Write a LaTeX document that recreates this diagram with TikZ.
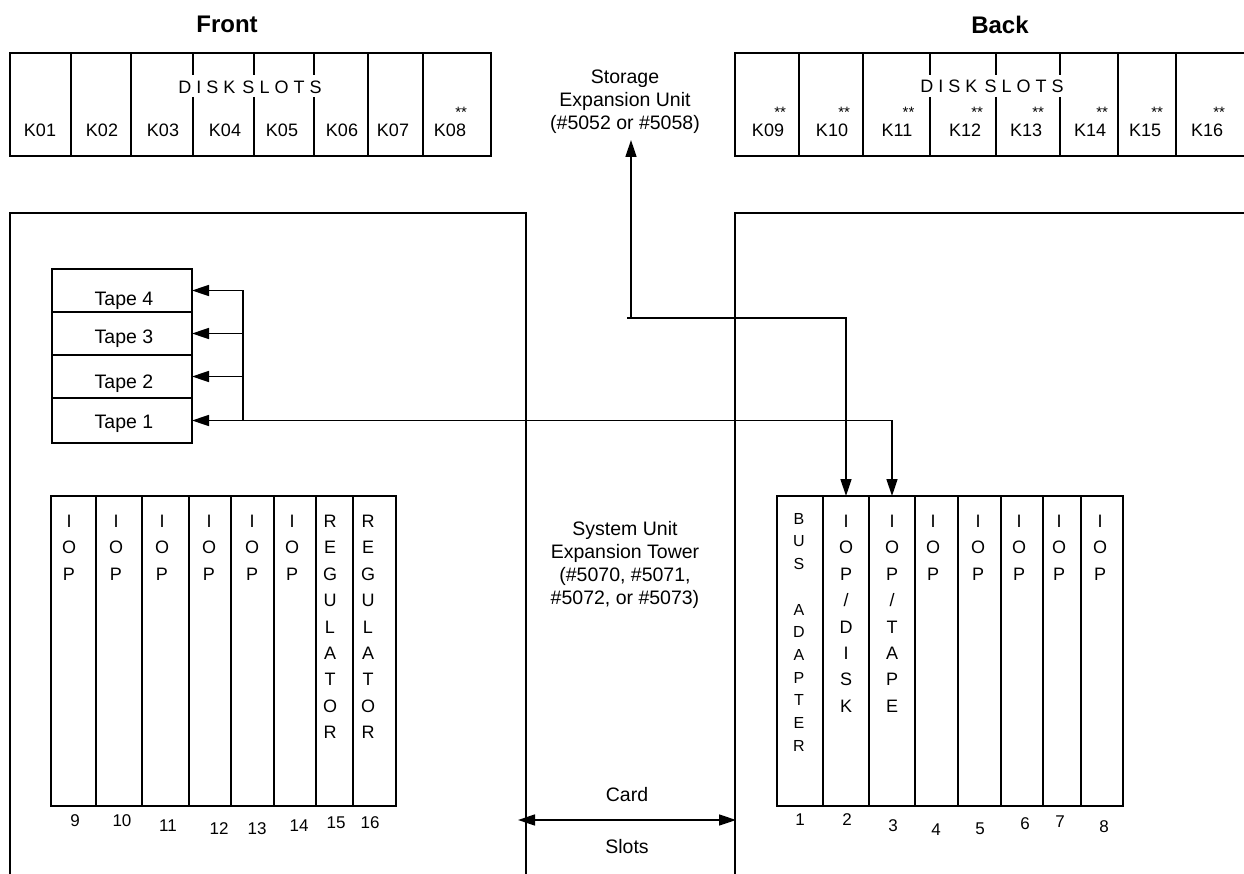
\documentclass[tikz,border=0pt]{standalone}
\usepackage{fontspec}
\setmainfont{Liberation Sans}
\usetikzlibrary{arrows.meta}
\begin{document}
\begin{tikzpicture}[x=1pt,y=-1pt,
  box/.style={draw, line width=2pt},
  div/.style={line width=1.6pt},
  conn/.style={line width=1.6pt},
  arr/.style={-{Triangle[length=17pt,width=11pt]}},
  darr/.style={{Triangle[length=17pt,width=11pt]}-{Triangle[length=17pt,width=11pt]}},
  title/.style={inner sep=0pt, font=\fontsize{24}{28}\selectfont\bfseries},
  lbl/.style={inner sep=0pt, font=\fontsize{18}{21}\selectfont},
  stars/.style={inner sep=0pt, font=\fontsize{15}{17}\selectfont},
  txt/.style={inner sep=0pt, font=\fontsize{19.5}{23}\selectfont, align=center},
  num/.style={inner sep=0pt, font=\fontsize{17}{20}\selectfont},
  tapebox/.style={draw, line width=1.8pt, minimum width=140pt, inner sep=0pt, outer sep=0pt, anchor=north west},
  card/.style={draw, line width=1.6pt, minimum height=310pt, inner sep=0pt, outer sep=0pt, anchor=north west},
  cl/.style={inner sep=0pt, font=\fontsize{18}{26.4}\selectfont, align=center, anchor=north},
  cls/.style={inner sep=0pt, font=\fontsize{16}{22.7}\selectfont, align=center, anchor=north}
]
\useasboundingbox (0,0) rectangle (1244,874);

% titles
\node[title, anchor=base] (front) at (227,33) {Front};
\node[title, anchor=base] (back) at (1000,34) {Back};

% front disk box
\draw[box] (10,53) rectangle (491,156);
\foreach \x in {71,131,368,423} \draw[div] (\x,53) -- (\x,156);
\foreach \x in {193,254,314} {\draw[div] (\x,53) -- (\x,75); \draw[div] (\x,97) -- (\x,156);}
\node[lbl, anchor=base] (fdisk) at (250,94) {D I S K\hspace{2pt} S L O T S};
\foreach \n/\x in {K01/40,K02/102,K03/163,K04/225,K05/282,K06/342,K07/393,K08/450}
  \node[lbl, anchor=base] (\n) at (\x,137) {\n};
\node[stars, anchor=base east] (sK08) at ([yshift=19pt,xshift=1pt]K08.base east) {**};

% back disk box
\draw[box] (735,53) rectangle (1256,156);
\foreach \x in {799,863,1118,1176} \draw[div] (\x,53) -- (\x,156);
\foreach \x in {930,996,1060} {\draw[div] (\x,53) -- (\x,75); \draw[div] (\x,97) -- (\x,156);}
\node[lbl, anchor=base] (bdisk) at (992,93) {D I S K\hspace{2pt} S L O T S};
\foreach \n/\x in {K09/768,K10/832,K11/897,K12/965,K13/1026,K14/1090,K15/1145,K16/1207}{
  \node[lbl, anchor=base] (\n) at (\x,137) {\n};
  \node[stars, anchor=base east] (s\n) at ([yshift=19pt,xshift=2pt]\n.base east) {**};
}

% storage expansion unit
\node[txt] (storage) at (625,102) {Storage\\Expansion Unit\\(\#5052 or \#5058)};
\coordinate (stip) at (631,140);
\coordinate (sbend) at (631,318);

% towers
\draw[box] (10,880) -- (10,213) -- (526,213) -- (526,880);
\draw[box] (1256,213) -- (735,213) -- (735,880);

% tapes
\node[tapebox, minimum height=43pt] (tape4) at (52,269) {};
\node[tapebox, minimum height=43pt] (tape3) at (52,312) {};
\node[tapebox, minimum height=43pt] (tape2) at (52,355) {};
\node[tapebox, minimum height=45pt] (tape1) at (52,398) {};
\node[txt, anchor=base] (lt4) at (124,306) {Tape 4};
\node[txt, anchor=base] (lt3) at (124,344) {Tape 3};
\node[txt, anchor=base] (lt2) at (124,388) {Tape 2};
\node[txt, anchor=base] (lt1) at (124,428) {Tape 1};
\coordinate (bus) at (243,0);

% left cards
\foreach \a/\w/\n in {51/45/c9,96/46/c10,142/47/c11,189/42/c12,231/43/c13,274/42/c14,316/37/c15,353/43/c16}
  \node[card, minimum width=\w pt] (\n) at (\a,496) {};
\foreach \x/\n in {69/t9,116/t10,162/t11,209/t12,252/t13,292/t14}
  \node[cl] (\n) at (\x,515) {I\\O\\P};
\node[cl] (t15) at (330,515) {R\\E\\G\\U\\L\\A\\T\\O\\R};
\node[cl] (t16) at (368,515) {R\\E\\G\\U\\L\\A\\T\\O\\R};
\foreach \t/\x/\y/\n in {9/75/821/n9,10/122/821/n10,11/168/826/n11,12/219/829/n12,13/257/829/n13,14/299/826/n14,15/336/823/n15,16/370/823/n16}
  \node[num] (\n) at (\x,\y) {\t};

% right cards
\foreach \a/\w/\n in {777/46/r1,823/46/r2,869/46/r3,915/43/r4,958/43/r5,1001/42/r6,1043/38/r7,1081/42/r8}
  \node[card, minimum width=\w pt] (\n) at (\a,496) {};
\node[cls] (u1) at (799,513) {B\\U\\S\\[22.7pt]A\\D\\A\\P\\T\\E\\R};
\node[cl] (u2) at (846,515) {I\\O\\P\\/\\D\\I\\S\\K};
\node[cl] (u3) at (892,515) {I\\O\\P\\/\\T\\A\\P\\E};
\foreach \x/\n in {933/u4,978/u5,1019/u6,1059/u7,1100/u8}
  \node[cl] (\n) at (\x,515) {I\\O\\P};
\foreach \t/\x/\y/\n in {1/800/820/m1,2/847/820/m2,3/893/826/m3,4/936/830/m4,5/980/829/m5,6/1025/824/m6,7/1060/822/m7,8/1104/827/m8}
  \node[num] (\n) at (\x,\y) {\t};

% centre texts
\node[txt, align=center] (sysunit) at (625,565) {System Unit\\Expansion Tower\\(\#5070, \#5071,\\\#5072, or \#5073)};
\node[txt] (cardlbl) at (627,795) {Card};
\node[txt] (slotslbl) at (627,847) {Slots};
\coordinate (csl) at (518,820);
\coordinate (csr) at (736,820);

% connectors
\draw[conn] (bus |- tape4.east) -- (bus |- tape1.east);
\foreach \t in {tape2,tape3,tape4}
  \draw[conn, arr] (bus |- \t.east) -- (\t.east);
\draw[conn, darr] (tape1.east) -| (r3.north);
\draw[conn, darr] (stip) -- (sbend) -| (r2.north);
\draw[conn] (sbend) -- ++(-4,0);
\draw[conn, darr] (csl) -- (csr);
\end{tikzpicture}
\end{document}
